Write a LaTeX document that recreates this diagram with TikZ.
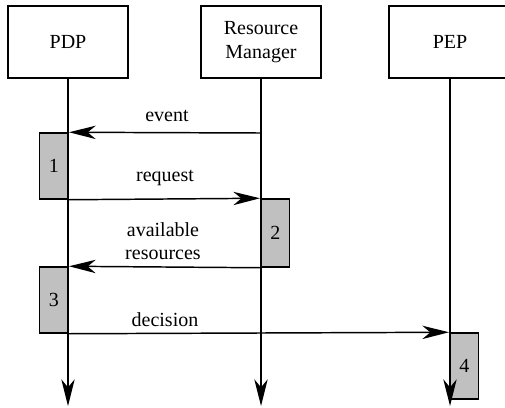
\documentclass[tikz,border=0pt]{standalone}
\usepackage{fontspec}
\setmainfont{Liberation Serif}
\newfontfamily\tnr{Liberation Serif}
\usetikzlibrary{arrows.meta}
\definecolor{actgray}{RGB}{192,192,192}
\begin{document}
\begin{tikzpicture}[x=0.75pt,y=-0.75pt,
  lw/.style={line width=1.1pt},
  txt/.style={font=\tnr\fontsize{15}{17.5}\selectfont},
  actor/.style={draw, lw, txt, minimum width=90pt, minimum height=54pt, inner sep=0pt, align=center},
  act/.style={draw, lw, txt, fill=actgray, minimum width=21.75pt, inner sep=0pt},
  msg/.style={lw, -{Stealth[length=20pt,width=10pt,inset=6pt]}},
  lbl/.style={txt, align=center, inner sep=0pt}
]
\useasboundingbox (0,0) rectangle (505,407);
\clip (0,0) rectangle (505,407);

% actors
\node[actor] (pdp) at (68,42) {PDP};
\node[actor] (rm) at (261,42) {Resource\\Manager};
\node[actor, minimum width=90pt, text width=0pt] (pep) at (449,42) {};
\node[lbl] (peptxt) at (450,42) {PEP};

% activation boxes
\node[act, minimum height=49.5pt] (a1) at (53.75,166) {1};
\node[act, minimum height=51pt]   (a2) at (275.25,233) {2};
\node[act, minimum height=49.5pt] (a3) at (53.75,300) {3};
\node[act, minimum height=49.5pt] (a4) at (464.25,366) {4};

% lifeline ends
\coordinate (pdpEnd) at (68,406);
\coordinate (rmEnd) at (261,406);
\coordinate (pepEnd) at (450,406);
\coordinate (pepTop) at (450,78);
\coordinate (ev) at (261,133);

% lifelines
\draw[msg] (pdp.south) -- (pdpEnd);
\draw[msg] (rm.south) -- (rmEnd);
\draw[msg] (pepTop) -- (pepEnd);

% messages
\draw[msg] (ev) -- (a1.north east);
\draw[msg] (a1.south east) -- (a2.north west);
\draw[msg] (a2.south west) -- (a3.north east);
\draw[msg] (a3.south east) -- (a4.north west);

% labels
\node[lbl] (levent) at (167,116) {event};
\node[lbl] (lreq) at (165,178) {request};
\node[lbl] (lav) at (163,241) {available\\resources};
\node[lbl] (ldec) at (165,320) {decision};
\end{tikzpicture}
\end{document}
